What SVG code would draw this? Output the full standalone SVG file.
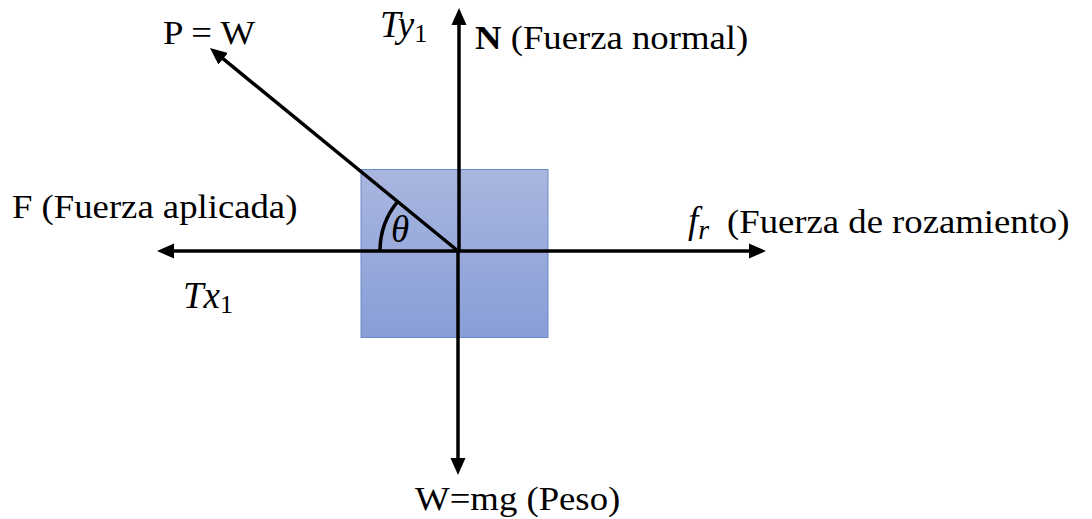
<svg xmlns="http://www.w3.org/2000/svg" width="1092" height="519" viewBox="0 0 1092 519">
<style>
text{font-family:'Liberation Serif','Times New Roman',serif;fill:#000}
.t{font-size:34px}
.m{font-style:italic;font-size:37px}
.s{font-size:26px;font-style:normal}
.v{stroke:#000;stroke-width:3.5;fill:none}
</style>
<defs>
<linearGradient id="boxg" x1="0" y1="0" x2="0" y2="1">
<stop offset="0" stop-color="#a9b6df"/>
<stop offset="1" stop-color="#889ed7"/>
</linearGradient>
<marker id="ah" markerUnits="userSpaceOnUse" markerWidth="18" markerHeight="16" refX="5" refY="7.5" orient="auto" viewBox="0 0 18 15">
<path d="M0,0 L17,7.5 L0,15 z" fill="#000"/>
</marker>
</defs>
<g id="block">
<rect x="361" y="169.5" width="187" height="168" fill="url(#boxg)" stroke="#6c89c9" stroke-width="1"/>
</g>
<g id="connectors">
<line class="v" x1="458" y1="251" x2="169" y2="251" marker-end="url(#ah)"/>
<line class="v" x1="458" y1="251" x2="754" y2="251" marker-end="url(#ah)"/>
<line class="v" x1="459" y1="251" x2="459" y2="20" marker-end="url(#ah)"/>
<line class="v" x1="458" y1="251" x2="458" y2="463" marker-end="url(#ah)"/>
<line class="v" x1="458" y1="251" x2="219.3" y2="55.6" marker-end="url(#ah)"/>
<path class="v" d="M380,251 A78,78 0 0 1 397.6,201.6"/>
</g>
<g id="labels">
<text class="t" transform="translate(163,44) scale(1.08,1)">P = W</text>
<text class="m" x="380" y="37">Ty<tspan class="s" dy="5">1</tspan></text>
<text class="t" transform="translate(475,49) scale(1.08,1)"><tspan font-weight="bold">N</tspan> (Fuerza normal)</text>
<text class="t" transform="translate(12,218) scale(1.08,1)">F (Fuerza aplicada)</text>
<text class="m" x="183" y="308">Tx<tspan class="s" dy="5">1</tspan></text>
<text class="m" x="391" y="242" font-size="32">θ</text>
<text class="m" x="688" y="233">f<tspan font-size="28" dy="6">r</tspan></text>
<text class="t" transform="translate(727,233) scale(1.08,1)">(Fuerza de rozamiento)</text>
<text class="t" transform="translate(415,510) scale(1.08,1)">W=mg (Peso)</text>
</g>
</svg>
